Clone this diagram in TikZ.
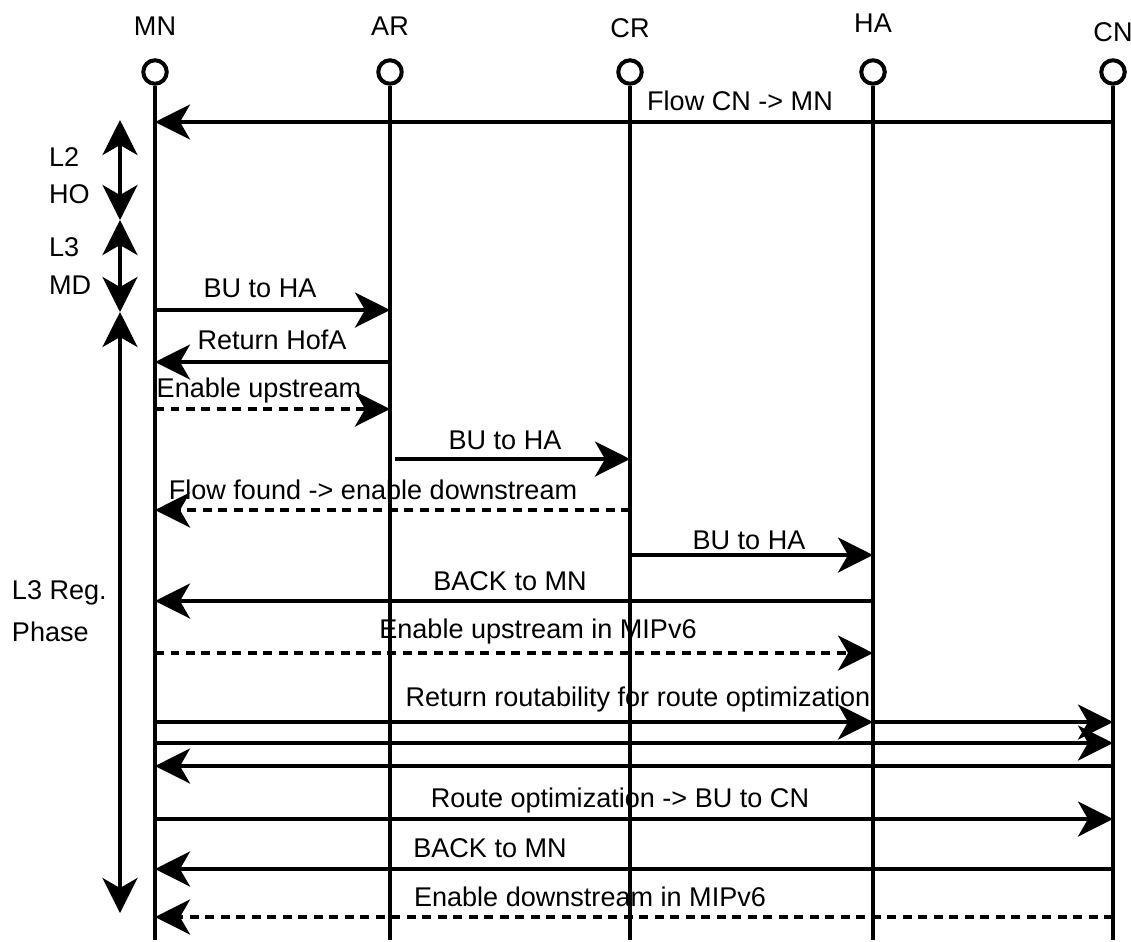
\documentclass[tikz,border=0pt]{standalone}
\usepackage{fontspec}
\setmainfont{Liberation Sans}
\usetikzlibrary{arrows.meta,positioning,calc}

\begin{document}
\begin{tikzpicture}[x=0.02cm, y=-0.02cm,
    line width=0.08cm,
    font=\fontsize{15.4}{18}\selectfont,
    msg/.style={-{Stealth[length=0.7cm, width=0.7cm, inset=0.2cm]}},
    dmsg/.style={msg, dash pattern=on 0.18cm off 0.13cm},
    span/.style={{Stealth[length=0.7cm, width=0.7cm, inset=0.2cm]}-{Stealth[length=0.7cm, width=0.7cm, inset=0.2cm]}},
    head/.style={circle, draw, minimum size=0.47cm, inner sep=0pt},
    lbl/.style={inner sep=0pt}]
    \useasboundingbox (0, 0) rectangle (1131, 941);

    % Lifelines
    \foreach \name/\x/\ly in {MN/155/26, AR/390/26, CR/630/28, HA/873/23, CN/1113/32} {
        \node[lbl] (\name-lbl) at (\x, \ly) {\name};
        \node[head] (\name) at (\x, 72) {};
        \coordinate (\name-end) at (\x, 940);
        \draw (\name) -- (\name-end);
    }

    % Phases on the left
    \coordinate (ho-top) at (120, 120);
    \coordinate (ho-bot) at (120, 220);
    \coordinate (md-bot) at (120, 312);
    \coordinate (reg-bot) at (120, 913);
    \draw[span] (ho-top) -- (ho-bot);
    \draw[span] (ho-bot) -- (md-bot);
    \draw[span] (md-bot) -- (reg-bot);
    \node[lbl, anchor=west] (l2) at (47, 157) {L2};
    \node[lbl, anchor=west] (ho) at (47, 194) {HO};
    \node[lbl, anchor=west] (l3) at (47, 247) {L3};
    \node[lbl, anchor=west] (md) at (47, 285) {MD};
    \node[lbl, anchor=west] (reg) at (10, 593) {L3 Reg.};
    \node[lbl, anchor=west] (phase) at (10, 632) {Phase};

    % Messages
    \draw[msg] (CN |- 0, 122) -- (MN |- 0, 122);
    \node[lbl] (m1) at (740, 101) {Flow CN -> MN};

    \draw[msg] (MN |- 0, 310) -- (AR |- 0, 310);
    \node[lbl] (m2) at (260, 288) {BU to HA};

    \draw[msg] (AR |- 0, 362) -- (MN |- 0, 362);
    \node[lbl] (m3) at (272, 340) {Return HofA};

    \draw[dmsg] (MN |- 0, 409) -- (AR |- 0, 409);
    \node[lbl] (m4) at (259, 390) {Enable upstream};

    \draw[msg] ([xshift=0.1cm]AR |- 0, 459) -- (CR |- 0, 459);
    \node[lbl] (m5) at (505, 440) {BU to HA};

    \draw[dmsg] (CR |- 0, 510) -- (MN |- 0, 510);
    \node[lbl] (m6) at (373, 490) {Flow found -> enable downstream};

    \draw[msg] (CR |- 0, 555) -- (HA |- 0, 555);
    \node[lbl] (m7) at (749, 540) {BU to HA};

    \draw[msg] (HA |- 0, 601) -- (MN |- 0, 601);
    \node[lbl] (m8) at (510, 581) {BACK to MN};

    \draw[dmsg] (MN |- 0, 653) -- (HA |- 0, 653);
    \node[lbl] (m9) at (538, 631) {Enable upstream in MIPv6};

    % Return routability
    \draw[msg] (MN |- 0, 722) -- (HA |- 0, 722);
    \draw[msg] (HA |- 0, 722) -- (CN |- 0, 722);
    \node[lbl] (m10) at (638, 699) {Return routability for route optimization};
    \draw[msg] (MN |- 0, 743) -- (CN |- 0, 743);
    \draw[msg] (CN |- 0, 766) -- (MN |- 0, 766);

    \draw[msg] (MN |- 0, 819) -- (CN |- 0, 819);
    \node[lbl] (m11) at (620, 800) {Route optimization -> BU to CN};

    \draw[msg] (CN |- 0, 869) -- (MN |- 0, 869);
    \node[lbl] (m12) at (490, 848) {BACK to MN};

    \draw[dmsg] (CN |- 0, 917) -- (MN |- 0, 917);
    \node[lbl] (m13) at (590, 897) {Enable downstream in MIPv6};
\end{tikzpicture}
\end{document}
